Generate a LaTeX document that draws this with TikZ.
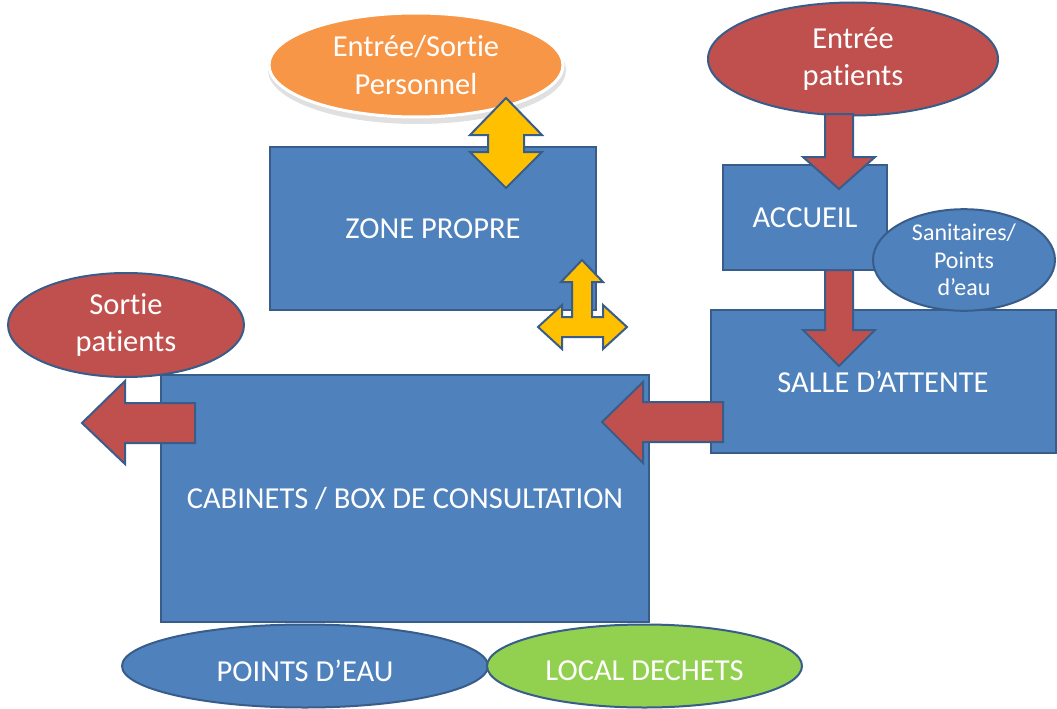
\documentclass[tikz,border=0pt]{standalone}
\usepackage{fontspec}
\setmainfont{Carlito}[Ligatures=NoCommon]
\usetikzlibrary{shapes.geometric}
\definecolor{bfill}{HTML}{4F81BD}
\definecolor{bline}{HTML}{385D8A}
\definecolor{rfill}{HTML}{C0504D}
\definecolor{ofill}{HTML}{F79646}
\definecolor{yfill}{HTML}{FFC000}
\definecolor{gfill}{HTML}{92D050}
\tikzset{
  room/.style={draw=bline, fill=bfill, line width=2pt, text=white, font=\fontsize{30.5}{36}\selectfont, inner sep=0pt},
  oval/.style={ellipse, draw=bline, line width=2pt, text=white, align=center, inner sep=0pt, font=\fontsize{30.5}{37.5}\selectfont},
  ovaltext/.style={text=white, inner sep=0pt, font=\fontsize{30.5}{37.5}\selectfont},
  redarrow/.style={draw=bline, fill=rfill, line width=2pt, line join=miter},
  yelarrow/.style={draw=bline, fill=yfill, line width=2pt, line join=miter},
}
\begin{document}
\begin{tikzpicture}[x=1pt, y=-1pt]
\useasboundingbox (0,0) rectangle (1057,709);
\fill[white] (0,0) rectangle (1057,709);

% rooms
\node[room, minimum width=326pt, minimum height=163pt] (zone) at (433,228.5) {ZONE PROPRE};
\node[room, minimum width=164pt, minimum height=105pt] (accueil) at (805,217.5) {ACCUEIL};
\node[room, minimum width=345pt, minimum height=143pt] (salle) at (883,381.5) {SALLE D’ATTENTE};
\node[room, minimum width=488pt, minimum height=247pt] (cab) at (405,498.5) {CABINETS / BOX DE CONSULTATION};

% personnel ellipse with glow
\fill[black!12] (417,70) ellipse [x radius=149pt, y radius=54pt];
\node[oval, fill=ofill, draw=white, line width=3pt, minimum width=294pt, minimum height=104pt] (perso) at (416,65) {Entrée/Sortie\\Personnel};

% patients entry / exit
\node[oval, fill=rfill, minimum width=290pt, minimum height=113pt] (entree) at (853,59) {Entrée\\patients};
\node[oval, fill=rfill, minimum width=236pt, minimum height=104pt] (sortie) at (126,325) {Sortie\\patients};

% red arrows
\draw[redarrow] (825,114) -- (853,114) -- (853,157) -- (875,157) -- (839,189) -- (803,157) -- (825,157) -- cycle;
\draw[redarrow] (825,270) -- (853,270) -- (853,330) -- (875,330) -- (839,366) -- (803,330) -- (825,330) -- cycle;
\draw[redarrow] (723,402) -- (643,402) -- (643,382) -- (602,422) -- (643,463) -- (643,442) -- (723,442) -- cycle;
\draw[redarrow] (195,403) -- (125,403) -- (125,381) -- (82,423) -- (125,464) -- (125,443) -- (195,443) -- cycle;

% sanitaires
\node[oval, fill=bfill, minimum width=182pt, minimum height=94pt, font=\fontsize{24}{27.5}\selectfont] (sani) at (964,260) {Sanitaires/\\Points\\d’eau};

% yellow arrows
\draw[yelarrow] (506,98) -- (542,135) -- (524,135) -- (524,152) -- (542,152) -- (506,188) -- (470,152) -- (488,152) -- (488,135) -- (470,135) -- cycle;
\draw[yelarrow] (582,260) -- (603,282) -- (592,282) -- (592,317) -- (603,317) -- (603,305) -- (627,327) -- (603,349) -- (603,337) -- (562,337) -- (562,349) -- (538,327) -- (562,305) -- (562,317) -- (572,317) -- (572,282) -- (561,282) -- cycle;

% bottom ellipses
\node[oval, fill=bfill, minimum width=366pt, minimum height=83pt] (eau) at (305,666) {};
\node[oval, fill=gfill, minimum width=315pt, minimum height=83pt] (dechets) at (644.5,666) {};
\node[ovaltext, yshift=-5pt] (eaut) at (eau.center) {POINTS D’EAU};
\node[ovaltext, yshift=-5pt] (dechetst) at (dechets.center) {LOCAL DECHETS};
\end{tikzpicture}
\end{document}
